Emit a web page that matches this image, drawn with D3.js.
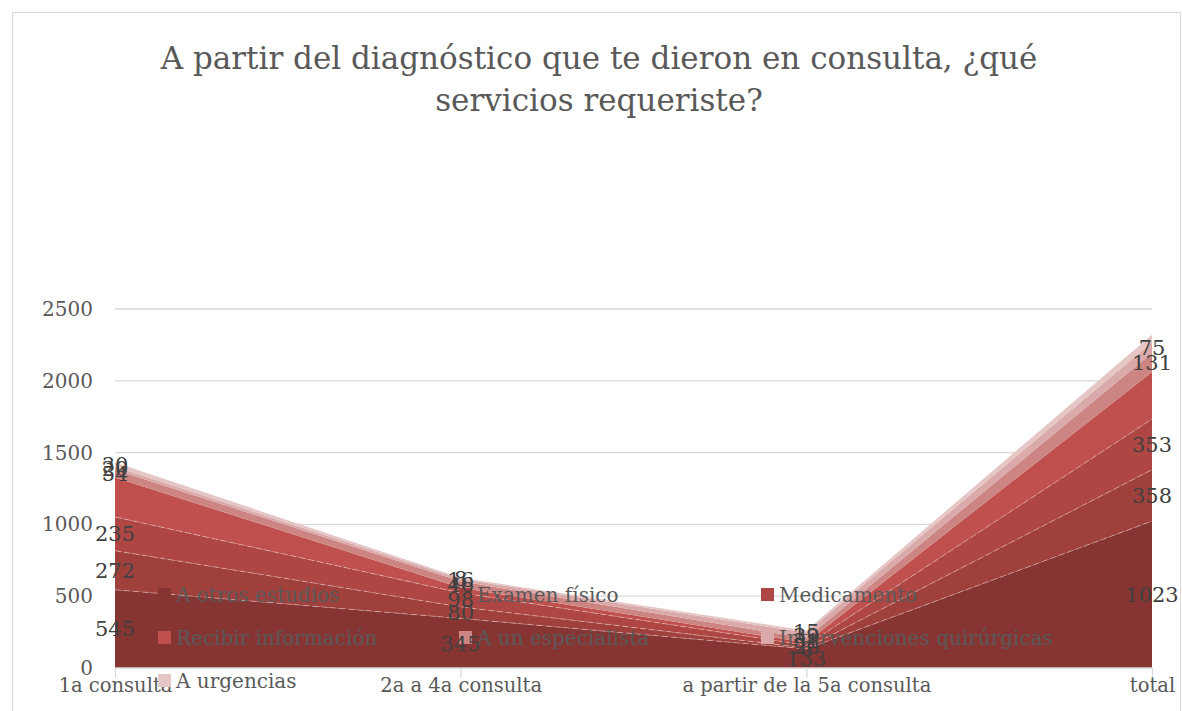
<!DOCTYPE html>
<html><head><meta charset="utf-8">
<script src="https://cdn.jsdelivr.net/npm/d3@7"></script>
<style>
body{margin:0;background:#fff;}
svg{display:block;font-family:"DejaVu Serif",serif;}
</style></head>
<body><svg id="c" width="1182" height="711"></svg>
<script>
const title = ["A partir del diagnóstico que te dieron en consulta, ¿qué", "servicios requeriste?"];
const categories = ["1a consulta", "2a a 4a consulta", "a partir de la 5a consulta", "total"];
const seriesNames = ["A otros estudios", "Examen físico", "Medicamento", "Recibir información", "A un especialista", "Intervenciones quirúrgicas", "A urgencias"];
const otrosEstudios = [545, 345, 133, 1023];
const examenFisico = [272, 80, 6, 358];
const medicamento = [235, 98, 20, 353];
const recibirInfo = [275, 35, 18, 328];
const especialista = [54, 46, 31, 131];
const intervenciones = [20, 16, 39, 75];
const urgencias = [30, 8, 15, 53];
const colors = ["#873533", "#a0403d", "#ae4744", "#c0504d", "#cd8583", "#d9aaa9", "#e5c6c5"];
const yTicks = [0, 500, 1000, 1500, 2000, 2500];
const labelledSeries = ["A otros estudios", "Examen físico", "Medicamento", "A un especialista", "Intervenciones quirúrgicas", "A urgencias"];

const values = [otrosEstudios, examenFisico, medicamento, recibirInfo, especialista, intervenciones, urgencias];
const rows = categories.map((c, i) => {
  const r = {cat: c};
  seriesNames.forEach((s, j) => r[s] = values[j][i]);
  return r;
});

const svg = d3.select("#c");
svg.append("rect").attr("x", 12.5).attr("y", 12.5).attr("width", 1168).attr("height", 720)
  .attr("fill", "none").attr("stroke", "#d9d9d9");

svg.append("text").attr("text-anchor", "middle")
  .attr("fill", "#595959").style("font-size", "31px")
  .selectAll("tspan").data(title).join("tspan")
  .attr("x", 599).attr("y", (d, i) => 69 + i * 42).text(d => d);

const x = d3.scalePoint().domain(categories).range([115, 1152]);
const y = d3.scaleLinear().domain([0, 2500]).range([668, 309]);

svg.append("g").selectAll("line").data(yTicks.filter(t => t > 0)).join("line")
  .attr("x1", 115).attr("x2", 1152).attr("y1", d => y(d)).attr("y2", d => y(d))
  .attr("stroke", "#d9d9d9").attr("stroke-width", 1.3);

const stacked = d3.stack().keys(seriesNames)(rows);
const area = d3.area().x(d => x(d.data.cat)).y0(d => y(d[0])).y1(d => y(d[1]));
const line = d3.line().x(d => x(d.data.cat)).y(d => y(d[1]));

svg.append("g").selectAll("path").data(stacked).join("path")
  .attr("d", area).attr("fill", (d, i) => colors[i]);
svg.append("g").selectAll("path").data(stacked.slice(0, 3)).join("path")
  .attr("d", line).attr("fill", "none").attr("stroke", "rgba(255,255,255,0.45)")
  .attr("stroke-width", 0.8).attr("stroke-dasharray", "6,3");

const xAxis = d3.axisBottom(x).tickSize(10).tickPadding(10);
const gx = svg.append("g").attr("transform", "translate(0,668)").call(xAxis);
gx.select(".domain").attr("stroke", "#d9d9d9").attr("stroke-width", 1.3).attr("d", "M115,0H1152");
gx.selectAll(".tick line").attr("stroke", "#d9d9d9").attr("stroke-width", 1.3);
gx.selectAll(".tick text").attr("fill", "#595959").style("font-size", "19.5px")
  .style("font-family", "DejaVu Serif, serif").attr("dy", "0.2em");

const yAxis = d3.axisLeft(y).tickValues(yTicks).tickFormat(d3.format("d")).tickSize(0).tickPadding(22);
const gy = svg.append("g").attr("transform", "translate(115,0)").call(yAxis);
gy.select(".domain").remove();
gy.selectAll(".tick text").attr("fill", "#595959").style("font-size", "20px")
  .style("font-family", "DejaVu Serif, serif");

const legend = svg.append("g");
const cols = [158, 459, 761];
seriesNames.forEach((s, i) => {
  const cx = cols[i % 3], cy = 595 + Math.floor(i / 3) * 43;
  legend.append("rect").attr("x", cx).attr("y", cy - 7).attr("width", 13).attr("height", 13)
    .attr("fill", colors[i]);
  legend.append("text").attr("x", cx + 18).attr("y", cy).attr("dy", "0.35em")
    .attr("fill", "#595959").style("font-size", "20px").text(s);
});

const lab = svg.append("g");
stacked.forEach((layer) => {
  if (!labelledSeries.includes(layer.key)) return;
  layer.forEach((d, j) => {
    if (layer.key === "A urgencias" && j === 3) return;
    lab.append("text").attr("x", x(d.data.cat)).attr("y", y((d[0] + d[1]) / 2))
      .attr("dy", "0.35em").attr("text-anchor", "middle")
      .attr("fill", "#404040").style("font-size", "21px")
      .text(d.data[layer.key]);
  });
});
</script></body></html>
